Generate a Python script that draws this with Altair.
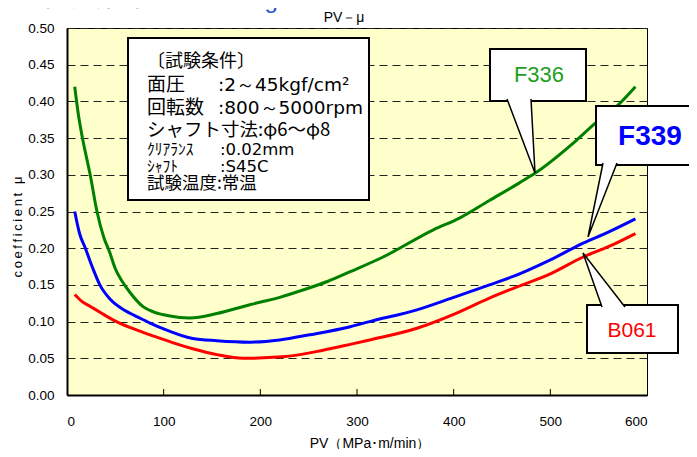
import altair as alt
import pandas as pd

# ---------------- data ----------------
series_names = ["F336", "F339", "B061"]
series_colors = ["#008000", "#0000ff", "#ff0000"]

pv_f336 = [8, 12, 16, 24, 31, 38, 44, 50, 57, 65, 79, 90, 105, 127, 155, 189, 220, 244, 270, 293, 327, 379, 406, 437, 468, 484, 527, 548, 570, 588]
mu_f336 = [0.42, 0.38, 0.35, 0.30, 0.25, 0.215, 0.195, 0.172, 0.155, 0.14, 0.12, 0.113, 0.108, 0.105, 0.111, 0.123, 0.133, 0.143, 0.155, 0.168, 0.188, 0.225, 0.241, 0.265, 0.289, 0.302, 0.347, 0.372, 0.395, 0.42]

pv_f339 = [8, 13, 19, 26, 34, 45, 60, 75, 86, 100, 130, 155, 189, 220, 251, 293, 313, 362, 400, 437, 470, 500, 534, 560, 588]
mu_f339 = [0.25, 0.22, 0.20, 0.175, 0.15, 0.13, 0.115, 0.105, 0.098, 0.09, 0.077, 0.074, 0.072, 0.075, 0.082, 0.093, 0.10, 0.116, 0.133, 0.15, 0.166, 0.184, 0.207, 0.222, 0.24]

pv_b061 = [8, 15, 25, 35, 48, 65, 86, 110, 130, 155, 182, 223, 265, 293, 313, 362, 400, 437, 465, 500, 534, 560, 588]
mu_b061 = [0.137, 0.128, 0.12, 0.112, 0.102, 0.092, 0.082, 0.071, 0.063, 0.055, 0.05, 0.052, 0.061, 0.069, 0.075, 0.091, 0.11, 0.132, 0.147, 0.165, 0.188, 0.202, 0.22]

x_ticks = [0, 100, 200, 300, 400, 500, 600]
x_inner_ticks = [100, 200, 300, 400, 500]
y_ticks = [0.0, 0.05, 0.10, 0.15, 0.20, 0.25, 0.30, 0.35, 0.40, 0.45, 0.50]

info_title = "〔試験条件〕"
info_labels = ["面圧", "回転数", "ｸﾘｱﾗﾝｽ", "ｼｬﾌﾄ"]
info_values = [":2～45kgf/cm²", ":800～5000rpm", ":0.02mm", ":S45C"]
info_shaft = "シャフト寸法:φ6～φ8"
info_temp = "試験温度:常温"

# ---------------- table ----------------
rows = []
for name, pvs, mus in zip(series_names, [pv_f336, pv_f339, pv_b061], [mu_f336, mu_f339, mu_b061]):
    for i, (p, m) in enumerate(zip(pvs, mus)):
        rows.append({"series": name, "pv": p, "mu": m, "order": i})
df = pd.DataFrame(rows)

W, H = 580, 367
JP = "Noto Sans CJK JP"
LAT = "Liberation Sans"

X = alt.X("pv:Q", scale=alt.Scale(domain=[0, 600], nice=False, zero=False),
          axis=alt.Axis(values=x_ticks, title=None, grid=False, ticks=False, tickSize=0,
                        labelPadding=19, domainWidth=2, domainColor="black"))
Y = alt.Y("mu:Q", scale=alt.Scale(domain=[0, 0.5], nice=False),
          axis=alt.Axis(values=y_ticks, format=".2f", title=None, grid=True, gridDash=[8, 5],
                        gridColor="#222222", gridWidth=1, ticks=False, tickSize=0,
                        labelPadding=13, domainWidth=2, domainColor="black"))

one = pd.DataFrame({"a": [0]})

lines = alt.Chart(df).mark_line(strokeWidth=3, interpolate="monotone").encode(
    x=X, y=Y,
    color=alt.Color("series:N", scale=alt.Scale(domain=series_names, range=series_colors), legend=None),
    order=alt.Order("order:Q"),
)

inner_ticks = alt.Chart(pd.DataFrame({"pv": x_inner_ticks})).mark_rule(color="black", strokeWidth=1).encode(
    x=X, y=alt.value(H), y2=alt.value(H - 6)
)


def box(x0, y0, x1, y1, sw=2):
    return alt.Chart(one).mark_rect(fill="white", stroke="black", strokeWidth=sw).encode(
        x=alt.value(x0), x2=alt.value(x1), y=alt.value(y0), y2=alt.value(y1))


def txt(x, y, s, size, color="black", font=JP, align="left", baseline="middle", weight="normal", angle=0):
    kw = dict(text=s, fontSize=size, color=color, font=font, align=align, baseline=baseline, fontWeight=weight)
    if angle:
        kw["angle"] = angle
    return alt.Chart(one).mark_text(**kw).encode(x=alt.value(x), y=alt.value(y))


def pointer(bl, tip, br):
    pts = [bl, tip, br]
    xs = [p[0] for p in pts]
    ys = [p[1] for p in pts]
    cx = (min(xs) + max(xs)) / 2
    cy = (min(ys) + max(ys)) / 2
    s = max(max(xs) - min(xs), max(ys) - min(ys)) / 2
    path = "M{:.4f},{:.4f}L{:.4f},{:.4f}L{:.4f},{:.4f}".format(
        (bl[0] - cx) / s, (bl[1] - cy) / s, (tip[0] - cx) / s, (tip[1] - cy) / s, (br[0] - cx) / s, (br[1] - cy) / s)
    return alt.Chart(one).mark_point(shape=path, size=(2 * s) ** 2, filled=True, fill="white",
                                     stroke="black", strokeWidth=1.5, opacity=1, fillOpacity=1).encode(
        x=alt.value(cx), y=alt.value(cy))


layers = [lines, inner_ticks]

# info box
layers.append(box(61, 10, 302, 172))
lx, vx = 80, 151
layers.append(txt(lx, 34, info_title, 18))
layers.append(txt(lx, 57, info_labels[0], 19))
layers.append(txt(vx, 57, info_values[0], 18.5, font="DejaVu Sans"))
layers.append(txt(lx, 80, info_labels[1], 19))
layers.append(txt(vx, 80, info_values[1], 18.5, font="DejaVu Sans"))
layers.append(txt(lx, 102, info_shaft, 18.5))
layers.append(txt(lx, 122, info_labels[2], 15.5))
layers.append(txt(vx + 2, 122, info_values[2], 16.5, font="DejaVu Sans"))
layers.append(txt(lx, 139, info_labels[3], 15.5))
layers.append(txt(vx + 2, 139, info_values[3], 16.5, font="DejaVu Sans"))
layers.append(txt(lx, 156, info_temp, 17.5))

# callouts
layers.append(box(423, 21, 519, 73))
layers.append(box(529, 78, 660, 137))
layers.append(box(520, 277, 611, 325))
layers.append(pointer((440, 71), (468, 145), (464, 71)))
layers.append(pointer((536, 135), (521, 209), (550, 135)))
layers.append(pointer((535, 279), (516, 225), (558, 279)))
layers.append(txt(472, 47, "F336", 22, color="#1e9e1e", font=LAT, align="center"))
layers.append(txt(583, 109, "F339", 28, color="#0000ff", font=LAT, align="center", weight="bold"))
layers.append(txt(565, 303, "B061", 21, color="#ff0000", font=LAT, align="center"))

# titles
layers.append(txt(277, -10, "PV－μ", 14, font=LAT, align="center"))
layers.append(txt(-65, -23, "●", 30, font=JP, align="center", baseline="alphabetic"))
layers.append(txt(-27, -23, "軸受性能", 31, font=JP, baseline="alphabetic"))
layers.append(txt(128, -20, "Bearing characteristics", 24, color="#2352c8", font=LAT, baseline="alphabetic"))
layers.append(txt(-49, 199, "c\u2009o\u2009e\u2009f\u2009f\u2009i\u2009c\u2009i\u2009e\u2009n\u2009t\u2009 \u2009μ", 13,
                  font=LAT, align="center", angle=270))
layers.append(txt(303, 416, "PV（MPa･m/min）", 14, font=LAT, align="center"))

chart = alt.layer(*layers).properties(
    width=W, height=H,
    padding={"left": 59, "top": 20, "right": 42, "bottom": 54},
    autosize=alt.AutoSizeParams(type="none"),
    background="white",
).configure_view(
    fill="#FFFFCC", stroke="black", strokeWidth=1
).configure_axis(
    labelFont=LAT, labelFontSize=13.5, labelColor="black"
)

chart.save("out.html", embed_options={"renderer": "svg", "actions": False})
